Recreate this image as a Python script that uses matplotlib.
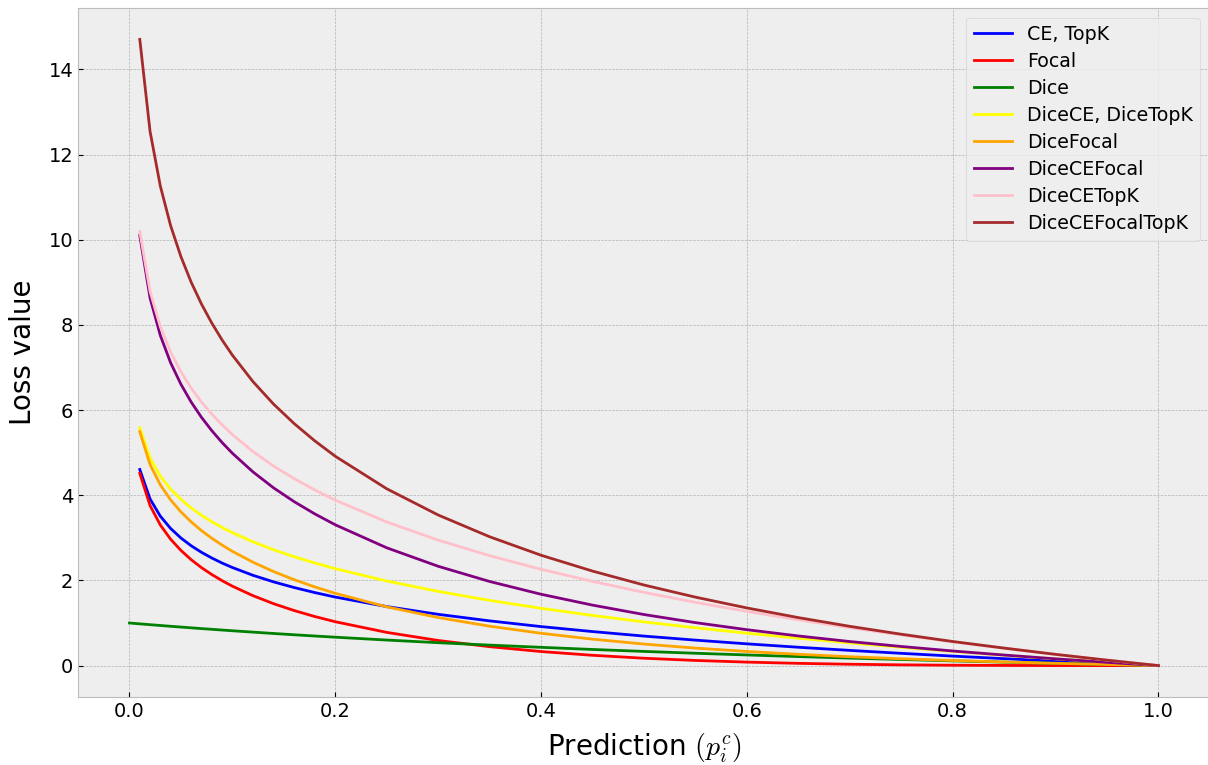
import numpy as np
import matplotlib.pyplot as plt

plt.style.use("bmh")

# predictions p (the combined losses start at 0.01, Dice starts at 0)
p = [0.01, 0.02, 0.03, 0.04, 0.05, 0.06, 0.07, 0.08, 0.09, 0.10,
     0.12, 0.14, 0.16, 0.18, 0.20, 0.25, 0.30, 0.35, 0.40, 0.45,
     0.50, 0.55, 0.60, 0.65, 0.70, 0.75, 0.80, 0.85, 0.90, 0.95, 1.00]
p_dice = [0.0] + p

ce = [4.605, 3.912, 3.507, 3.219, 2.996, 2.813, 2.659, 2.526, 2.408, 2.303,
      2.120, 1.966, 1.833, 1.715, 1.609, 1.386, 1.204, 1.050, 0.916, 0.799,
      0.693, 0.598, 0.511, 0.431, 0.357, 0.288, 0.223, 0.163, 0.105, 0.051, 0.0]
focal = [4.514, 3.757, 3.300, 2.967, 2.704, 2.486, 2.300, 2.138, 1.994, 1.865,
         1.642, 1.454, 1.293, 1.153, 1.030, 0.780, 0.590, 0.444, 0.330, 0.242,
         0.173, 0.121, 0.082, 0.053, 0.032, 0.018, 0.009, 0.004, 0.001, 0.0, 0.0]
dice = [1.0, 0.980, 0.961, 0.942, 0.923, 0.905, 0.887, 0.869, 0.852, 0.835, 0.818,
        0.786, 0.754, 0.724, 0.695, 0.667, 0.600, 0.538, 0.481, 0.429, 0.379,
        0.333, 0.290, 0.250, 0.212, 0.176, 0.143, 0.111, 0.081, 0.053, 0.026, 0.0]
dice_ce = [5.585, 4.873, 4.449, 4.142, 3.901, 3.700, 3.528, 3.378, 3.243, 3.121,
           2.906, 2.720, 2.557, 2.410, 2.276, 1.986, 1.742, 1.531, 1.345, 1.178,
           1.026, 0.888, 0.761, 0.643, 0.533, 0.431, 0.334, 0.244, 0.158, 0.077, 0.0]
dice_focal = [5.494, 4.718, 4.242, 3.890, 3.609, 3.373, 3.169, 2.990, 2.829, 2.683,
              2.428, 2.208, 2.017, 1.848, 1.697, 1.380, 1.128, 0.925, 0.759, 0.621,
              0.506, 0.411, 0.332, 0.265, 0.208, 0.161, 0.120, 0.085, 0.054, 0.026, 0.0]
dice_ce_focal = [10.099, 8.630, 7.749, 7.109, 6.605, 6.186, 5.828, 5.516, 5.237, 4.986,
                 4.548, 4.174, 3.850, 3.563, 3.306, 2.766, 2.332, 1.975, 1.675, 1.420,
                 1.199, 1.009, 0.843, 0.696, 0.565, 0.449, 0.343, 0.248, 0.159, 0.077, 0.0]
dice_ce_topk = [10.190, 8.785, 7.956, 7.361, 6.897, 6.513, 6.187, 5.904, 5.651, 5.424,
                5.026, 4.686, 4.390, 4.125, 3.885, 3.372, 2.946, 2.581, 2.261, 1.977,
                1.719, 1.486, 1.272, 1.074, 0.890, 0.719, 0.557, 0.407, 0.263, 0.128, 0.0]
dice_ce_focal_topk = [14.704, 12.542, 11.256, 10.328, 9.601, 8.999, 8.487, 8.042, 7.645, 7.289,
                      6.668, 6.140, 5.683, 5.278, 4.915, 4.152, 3.536, 3.025, 2.591, 2.219,
                      1.892, 1.607, 1.354, 1.127, 0.922, 0.737, 0.566, 0.411, 0.264, 0.128, 0.0]

fig = plt.figure(figsize=(12.08, 7.65), dpi=100)
ax = fig.add_axes([0.0646, 0.089, 0.937, 0.9005])

lw = 2.0
ax.plot(p, ce, color="blue", lw=lw, label="CE, TopK")
ax.plot(p, focal, color="red", lw=lw, label="Focal")
ax.plot(p_dice, dice, color="green", lw=lw, label="Dice")
ax.plot(p, dice_ce, color="yellow", lw=lw, label="DiceCE, DiceTopK")
ax.plot(p, dice_focal, color="orange", lw=lw, label="DiceFocal")
ax.plot(p, dice_ce_focal, color="purple", lw=lw, label="DiceCEFocal")
ax.plot(p, dice_ce_topk, color="pink", lw=lw, label="DiceCETopK")
ax.plot(p, dice_ce_focal_topk, color="brown", lw=lw, label="DiceCEFocalTopK")

ax.set_xlabel(r"Prediction $(p_i^c)$", fontsize=20, labelpad=8)
ax.set_ylabel("Loss value", fontsize=20, labelpad=8)
ax.tick_params(labelsize=14)
ax.legend(loc="upper right", fontsize=13.7, labelspacing=0.42)

fig.savefig("out.png", dpi=100)
